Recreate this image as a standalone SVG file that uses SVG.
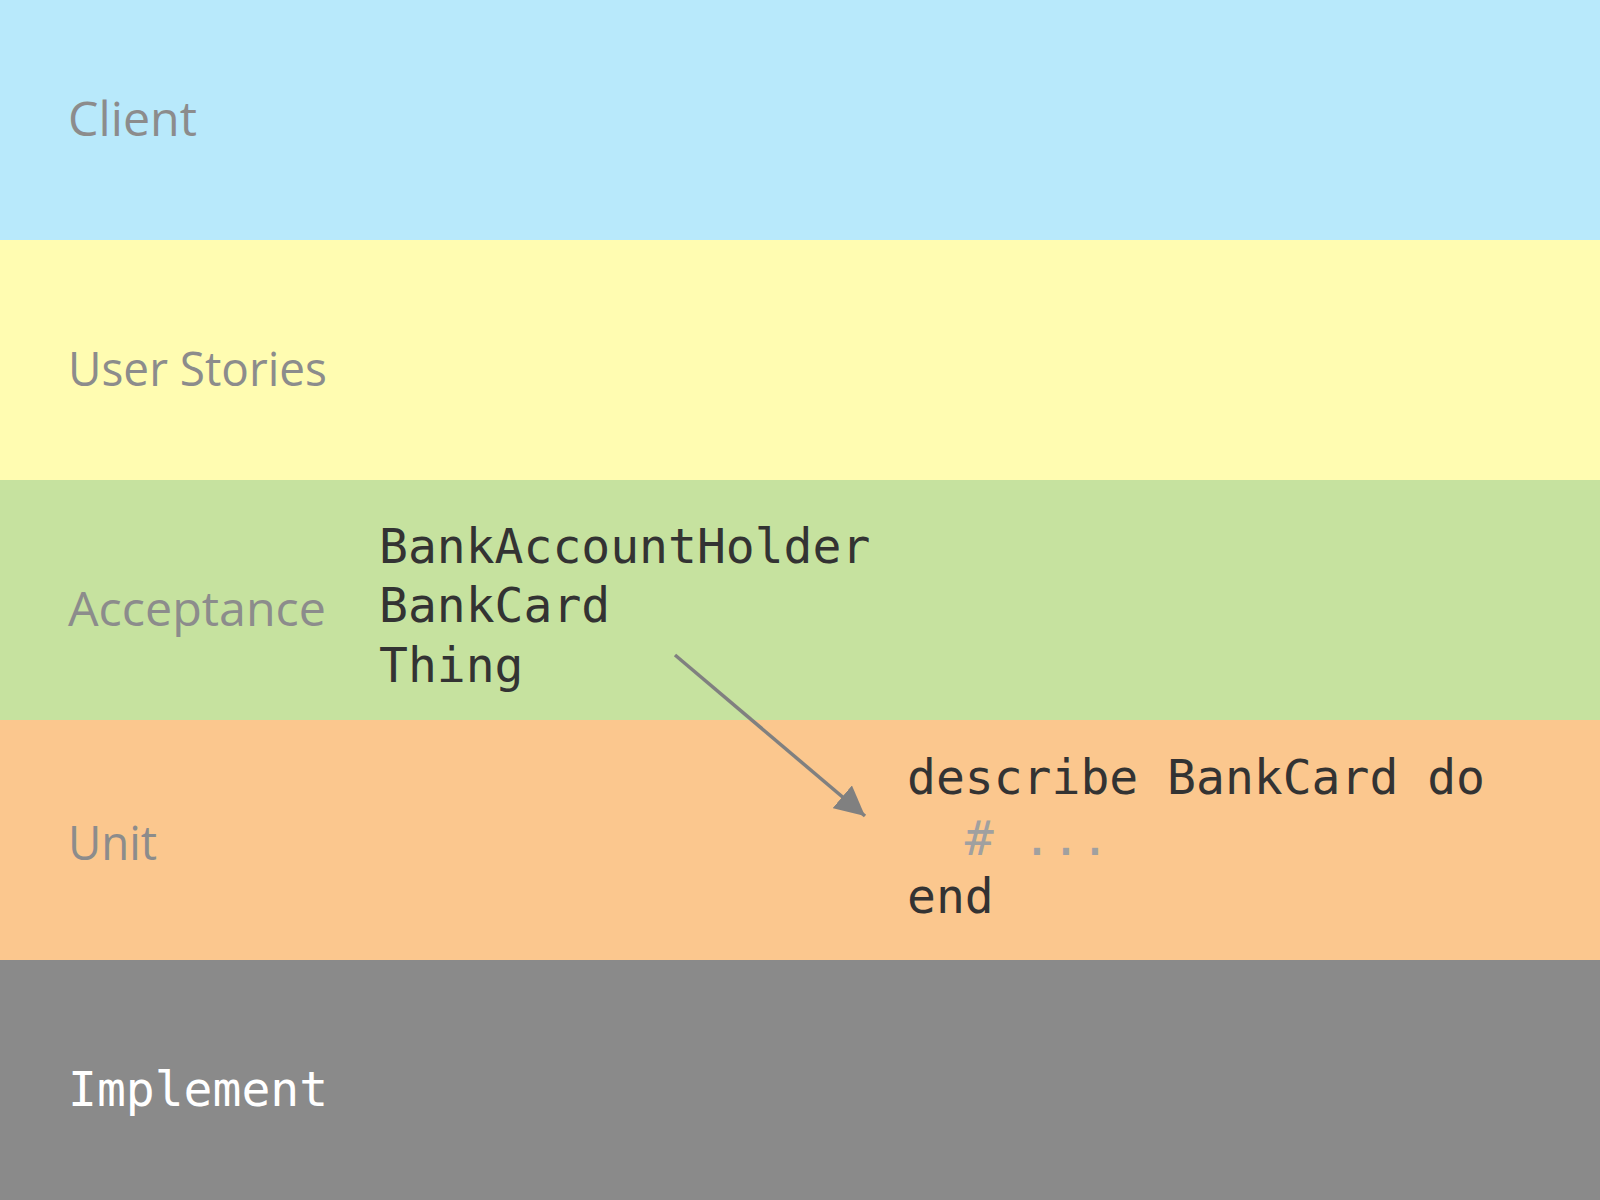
<svg xmlns="http://www.w3.org/2000/svg" width="1600" height="1200" viewBox="0 0 1600 1200">
<defs>
<style>
.lbl{font-family:"Open Sans","Noto Sans",sans-serif;font-size:47px;fill:#8c8c8c;font-weight:400}
.code{font-family:"DejaVu Sans Mono","Liberation Mono",monospace;font-size:48px;fill:#333333}
.cmt{fill:#a0a0a0}
.impl{font-family:"DejaVu Sans Mono","Liberation Mono",monospace;font-size:48px;fill:#ffffff}
.conn{stroke:#808080;stroke-width:3.5;fill:none}
</style>
<marker id="arrow" viewBox="0 0 10 10" refX="10" refY="5" markerWidth="8.5" markerHeight="8.5" orient="auto">
<path d="M0,0 L10,5 L0,10 z" fill="#808080"/>
</marker>
</defs>
<g id="client">
<rect x="0" y="0" width="1600" height="240" fill="#b8e9fb"/>
<text class="lbl" x="68" y="136" textLength="129" lengthAdjust="spacingAndGlyphs">Client</text>
</g>
<g id="user-stories">
<rect x="0" y="240" width="1600" height="240" fill="#fffcb1"/>
<text class="lbl" x="68" y="386" textLength="259" lengthAdjust="spacingAndGlyphs">User Stories</text>
</g>
<g id="acceptance">
<rect x="0" y="480" width="1600" height="240" fill="#c6e29f"/>
<text class="lbl" x="68" y="626" textLength="258" lengthAdjust="spacingAndGlyphs">Acceptance</text>
<text class="code" x="379" y="563">BankAccountHolder</text>
<text class="code" x="379" y="622">BankCard</text>
<text class="code" x="379" y="682">Thing</text>
</g>
<g id="unit">
<rect x="0" y="720" width="1600" height="240" fill="#fbc78e"/>
<text class="lbl" x="68" y="860" textLength="89" lengthAdjust="spacingAndGlyphs">Unit</text>
<text class="code" x="907" y="794">describe BankCard do</text>
<text class="code cmt" x="907" y="855" xml:space="preserve">  # ...</text>
<text class="code" x="907" y="913">end</text>
</g>
<g id="implement">
<rect x="0" y="960" width="1600" height="240" fill="#8a8a8a"/>
<text class="impl" x="68" y="1106">Implement</text>
</g>
<g id="connectors">
<line class="conn" x1="675" y1="655" x2="865" y2="816" marker-end="url(#arrow)"/>
</g>
</svg>
